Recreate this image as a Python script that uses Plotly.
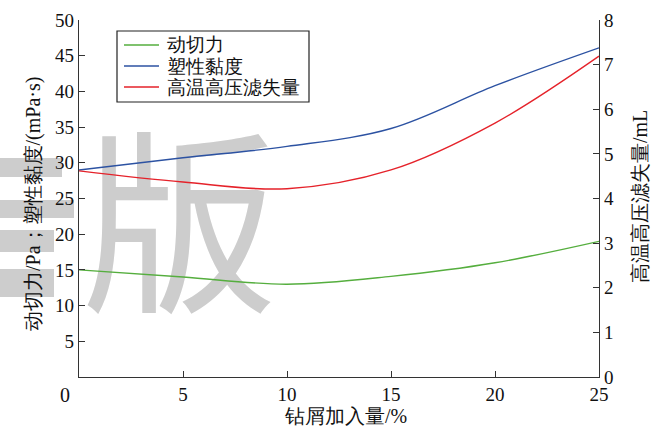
import plotly.graph_objects as go

# data
x_vals = [0, 5, 10, 15, 20, 25]
yield_point = [15.0, 14.0, 13.0, 14.1, 16.0, 19.0]          # 动切力 (left)
plastic_visc = [29.0, 30.7, 32.3, 34.8, 40.8, 46.1]         # 塑性黏度 (left)
hthp_loss = [4.62, 4.37, 4.22, 4.64, 5.69, 7.19]            # 高温高压滤失量 (right)
names = ["动切力", "塑性黏度", "高温高压滤失量"]
colors = ["#55ae3e", "#2c52a2", "#e5222a"]
left_ticks = [5, 10, 15, 20, 25, 30, 35, 40, 45, 50]
right_ticks = [0, 1, 2, 3, 4, 5, 6, 7, 8]
x_ticks = [5, 10, 15, 20, 25]

FONT = "Times New Roman, Liberation Serif, Tinos, DejaVu Serif, serif"
L, R, T, B = 79, 61, 20, 53
W, H = 660, 430
pw, ph = W - L - R, H - T - B

def px(xp):
    return (xp - L) / pw

def py(yp):
    return (H - B - yp) / ph

fig = go.Figure()

# watermark (behind the lines)
fig.add_trace(go.Scatter(
    x=[4.85], y=[18.0], mode="text", text=["版"],
    textfont=dict(family="Noto Sans CJK SC", size=196, color="#cdcdcd"),
    textposition="middle center", cliponaxis=False,
    showlegend=False, hoverinfo="skip"))

series = [(yield_point, "y"), (plastic_visc, "y"), (hthp_loss, "y2")]
for (vals, ax), nm, col in zip(series, names, colors):
    fig.add_trace(go.Scatter(x=x_vals, y=vals, name=nm, mode="lines", yaxis=ax,
                             showlegend=False,
                             line=dict(color=col, width=1.4, shape="spline")))

# partial watermark glyph at the left edge
for (x0, x1, y0, y1) in [(0, 62, 158, 177), (0, 74, 200, 218), (0, 54, 230, 252), (0, 54, 269, 297)]:
    fig.add_shape(type="rect", xref="paper", yref="paper", layer="below",
                  x0=px(x0 - 20), x1=px(x1), y0=py(y1), y1=py(y0),
                  fillcolor="#cdcdcd", line=dict(width=0))

# legend (drawn manually for exact row spacing)
fig.add_shape(type="rect", xref="paper", yref="paper",
              x0=px(117), x1=px(309), y0=py(102), y1=py(31),
              fillcolor="white", line=dict(color="#222", width=1.2), layer="above")
for i, (nm, col) in enumerate(zip(names, colors)):
    yy = [45, 66, 87][i]
    fig.add_shape(type="line", xref="paper", yref="paper",
                  x0=px(124), x1=px(159), y0=py(yy), y1=py(yy),
                  line=dict(color=col, width=1.4), layer="above")
    fig.add_annotation(xref="paper", yref="paper", showarrow=False,
                       x=px(165), y=py(yy), xanchor="left", yanchor="middle",
                       text=nm, font=dict(family=FONT, size=19, color="#111"))

fig.update_layout(
    width=W, height=H,
    margin=dict(l=L, r=R, t=T, b=B, autoexpand=False),
    paper_bgcolor="white", plot_bgcolor="rgba(0,0,0,0)",
    font=dict(family=FONT, size=19, color="#111"),
    showlegend=False,
    xaxis=dict(range=[0, 25], tickvals=x_ticks, ticks="inside", ticklen=6,
               showline=True, linecolor="#333", linewidth=1.3, tickcolor="#333",
               showgrid=False, zeroline=False, mirror=False, automargin=False,
               tickfont=dict(family=FONT, size=19)),
    yaxis=dict(range=[0, 50], tickvals=left_ticks, ticks="inside", ticklen=6,
               showline=True, linecolor="#333", linewidth=1.3, tickcolor="#333",
               showgrid=False, zeroline=False, automargin=False,
               tickfont=dict(family=FONT, size=19)),
    yaxis2=dict(range=[0, 8], tickvals=right_ticks, ticks="inside", ticklen=6,
                overlaying="y", side="right", anchor="x", automargin=False,
                showline=True, linecolor="#333", linewidth=1.3, tickcolor="#333",
                showgrid=False, zeroline=False,
                tickfont=dict(family=FONT, size=19)),
)

ann = [
    dict(text="0", x=px(65), y=py(395)),
    dict(text="钻屑加入量/%", x=px(345), y=py(416)),
    dict(text="动切力/Pa；塑性黏度/(mPa·s)", x=px(34), y=py(204), textangle=-90),
    dict(text="高温高压滤失量/mL", x=px(640), y=py(197), textangle=-90),
]
for a in ann:
    fig.add_annotation(xref="paper", yref="paper", showarrow=False,
                       xanchor="center", yanchor="middle",
                       font=dict(family=FONT, size=20, color="#111"), **a)

fig.write_html("out.html", config={"displayModeBar": False},
               post_script="document.body.style.margin='0px';")
